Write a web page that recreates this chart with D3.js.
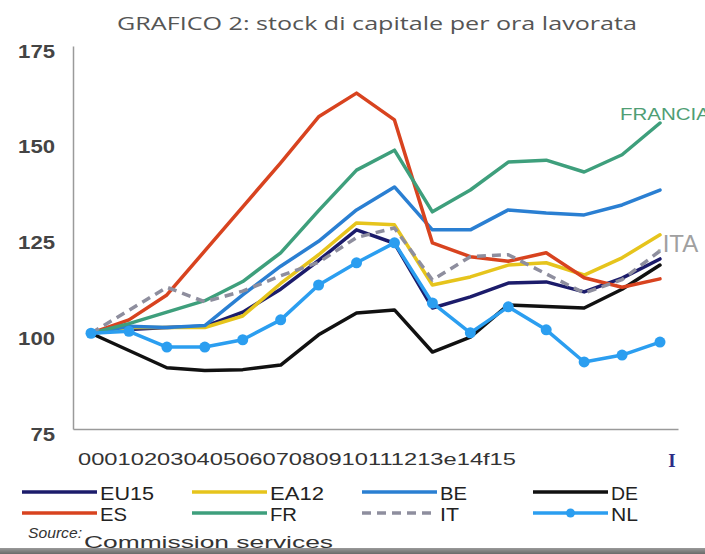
<!DOCTYPE html>
<html>
<head>
<meta charset="utf-8">
<script src="https://cdn.jsdelivr.net/npm/d3@7"></script>
<style>
  html, body { margin: 0; padding: 0; background: #fff; }
  svg { display: block; }
</style>
</head>
<body>
<svg id="chart" width="705" height="554"></svg>
<script>
// Anni (etichette dell'asse orizzontale)
const years = ["00","01","02","03","04","05","06","07","08","09","10","11","12","13e","14f","15"];
const yTicks = [75, 100, 125, 150, 175];

// Stock di capitale per ora lavorata, indice 2000 = 100
const EU15 = [100, 101, 101.5, 101.8, 105.5, 111.5, 119, 127, 123.5, 106.6, 109.5, 113.1, 113.4, 110.8, 114.4, 119.4];
const EA12 = [100, 101.5, 101.5, 101.5, 104.5, 113, 120.5, 128.8, 128.3, 112.6, 114.7, 117.8, 118.4, 115.2, 119.7, 125.7];
const BE   = [100, 101.8, 101.5, 102, 110, 117.5, 124, 132.2, 138.2, 127, 127, 132.2, 131.4, 130.9, 133.5, 137.4];
const DE   = [100, 95.5, 91, 90.3, 90.5, 91.7, 99.6, 105.3, 106.1, 95.1, 99, 107.4, 107, 106.6, 111.5, 117.8];
const ES   = [100, 103.5, 110, 121.5, 133, 144.5, 156.5, 162.7, 155.7, 123.6, 120, 118.8, 121, 114.5, 112, 114.2];
const FR   = [100, 102.5, 105.5, 108.5, 113.5, 121, 132, 142.6, 147.8, 131.7, 137.4, 144.7, 145.2, 142.1, 146.6, 154.9];
const IT   = [100, 106, 112, 108.2, 111, 115, 118.5, 125, 127.5, 113.9, 120, 120.5, 115.5, 110.5, 114, 121.5];
const NL   = [100, 100.5, 96.4, 96.4, 98.3, 103.5, 112.6, 118.4, 123.6, 107.9, 100.1, 106.9, 100.9, 92.5, 94.3, 97.7];

const series = [
  { name: "EU15", values: EU15, color: "#1c1c6b", dash: null, marker: false },
  { name: "EA12", values: EA12, color: "#e6c41c", dash: null, marker: false },
  { name: "BE",   values: BE,   color: "#2a7fd2", dash: null, marker: false },
  { name: "DE",   values: DE,   color: "#111111", dash: null, marker: false },
  { name: "ES",   values: ES,   color: "#d8431f", dash: null, marker: false },
  { name: "FR",   values: FR,   color: "#3e9f7c", dash: null, marker: false },
  { name: "IT",   values: IT,   color: "#8e8e9e", dash: "9,6", marker: false },
  { name: "NL",   values: NL,   color: "#2b9ef0", dash: null, marker: true }
];

const svg = d3.select("#chart");

const x = d3.scalePoint().domain(years).range([91, 660]);
const y = d3.scaleLinear().domain([75, 175]).range([429, 46]);

// Titolo
svg.append("text")
  .attr("x", 117).attr("y", 30)
  .attr("textLength", 520).attr("lengthAdjust", "spacingAndGlyphs")
  .style("font-family", "'Open Sans', sans-serif")
  .style("font-size", "19px")
  .style("fill", "#555")
  .text("GRAFICO 2: stock di capitale per ora lavorata");

// Asse verticale
const yAxis = svg.append("g")
  .attr("transform", "translate(73,0)")
  .call(d3.axisLeft(y).tickValues(yTicks).tickSize(0).tickPadding(18).tickFormat(d3.format("d")));
yAxis.select(".domain").attr("stroke", "#9a9a9a").attr("stroke-width", 1.5);
yAxis.selectAll("text")
  .attr("dy", "0.62em")
  .attr("textLength", d => String(d).length * 12.3)
  .attr("lengthAdjust", "spacingAndGlyphs")
  .style("font-family", "'Liberation Sans', Arial, sans-serif")
  .style("font-size", "18px")
  .style("font-weight", "bold")
  .style("fill", "#444");

// Asse orizzontale (solo la linea di base)
const xFrame = d3.scaleLinear().domain([0, 1]).range([73, 678]);
const xAxis = svg.append("g")
  .attr("transform", `translate(0,${y(75)})`)
  .call(d3.axisBottom(xFrame).tickValues([]).tickSizeOuter(0));
xAxis.select(".domain").attr("stroke", "#9a9a9a").attr("stroke-width", 1.5);

// Etichette degli anni, tutte in una riga
const yearRow = svg.append("text")
  .attr("x", 78).attr("y", 465)
  .attr("textLength", 438).attr("lengthAdjust", "spacingAndGlyphs")
  .style("font-family", "'Liberation Sans', Arial, sans-serif")
  .style("font-size", "16.5px")
  .style("fill", "#333");
yearRow.selectAll("tspan").data(years).join("tspan").text(d => d);

svg.append("text")
  .attr("x", 672).attr("y", 467)
  .attr("text-anchor", "middle")
  .style("font-family", "'Liberation Serif', serif")
  .style("font-size", "19px")
  .style("font-weight", "bold")
  .style("fill", "#2c2c86")
  .text("I");

// Serie
const line = d3.line()
  .x((d, i) => x(years[i]))
  .y(d => y(d));

const plot = svg.append("g").attr("class", "lines");
series.forEach(s => {
  plot.append("path")
    .datum(s.values)
    .attr("fill", "none")
    .attr("stroke", s.color)
    .attr("stroke-width", 3.5)
    .attr("stroke-linejoin", "round")
    .attr("stroke-linecap", s.dash ? "butt" : "round")
    .attr("stroke-dasharray", s.dash)
    .attr("d", line);
  if (s.marker) {
    plot.selectAll(null)
      .data(s.values)
      .join("circle")
      .attr("cx", (d, i) => x(years[i]))
      .attr("cy", d => y(d))
      .attr("r", 5.5)
      .attr("fill", s.color);
  }
});

// Etichette a fine linea
svg.append("text")
  .attr("x", 620).attr("y", 120)
  .attr("textLength", 90).attr("lengthAdjust", "spacingAndGlyphs")
  .style("font-family", "'Liberation Sans', Arial, sans-serif")
  .style("font-size", "16px")
  .style("fill", "#4f9e74")
  .text("FRANCIA");

svg.append("text")
  .attr("x", 656).attr("y", 252)
  .style("font-family", "'Liberation Sans', Arial, sans-serif")
  .style("font-size", "24px")
  .style("fill", "#a0a0a0")
  .text(".ITA");

// Legenda
const legendCols = [22, 192, 362, 533];
const legendRows = [492, 513];
const legend = svg.append("g").attr("class", "legend");
series.forEach((s, i) => {
  const lx = legendCols[i % 4];
  const ly = legendRows[Math.floor(i / 4)];
  const g = legend.append("g");
  g.append("line")
    .attr("x1", lx).attr("x2", lx + 75)
    .attr("y1", ly).attr("y2", ly)
    .attr("stroke", s.color)
    .attr("stroke-width", 3.5)
    .attr("stroke-dasharray", s.dash);
  if (s.marker) {
    g.append("circle").attr("cx", lx + 37.5).attr("cy", ly).attr("r", 4.5).attr("fill", s.color);
  }
  g.append("text")
    .attr("x", lx + 78).attr("y", ly + 8)
    .attr("textLength", s.name.length * 13.5 + (s.name === "IT" ? -8 : 0))
    .attr("lengthAdjust", "spacingAndGlyphs")
    .style("font-family", "'Liberation Sans', Arial, sans-serif")
    .style("font-size", "18px")
    .style("fill", "#222")
    .text(s.name);
});

// Fonte
svg.append("text")
  .attr("x", 28).attr("y", 538)
  .attr("textLength", 54).attr("lengthAdjust", "spacingAndGlyphs")
  .style("font-family", "'Liberation Sans', Arial, sans-serif")
  .style("font-size", "14px")
  .style("font-style", "italic")
  .style("fill", "#333")
  .text("Source:");
svg.append("text")
  .attr("x", 84).attr("y", 548)
  .attr("textLength", 249).attr("lengthAdjust", "spacingAndGlyphs")
  .style("font-family", "'Liberation Sans', Arial, sans-serif")
  .style("font-size", "16px")
  .style("fill", "#333")
  .text("Commission services");

// Bordo inferiore scuro
const grad = svg.append("defs").append("linearGradient")
  .attr("id", "bottomShade").attr("x1", 0).attr("x2", 0).attr("y1", 0).attr("y2", 1);
grad.append("stop").attr("offset", "0%").attr("stop-color", "#9a9a9a");
grad.append("stop").attr("offset", "100%").attr("stop-color", "#6a6a6a");
svg.append("rect")
  .attr("x", 0).attr("y", 548).attr("width", 705).attr("height", 6)
  .attr("fill", "url(#bottomShade)");
</script>
</body>
</html>
